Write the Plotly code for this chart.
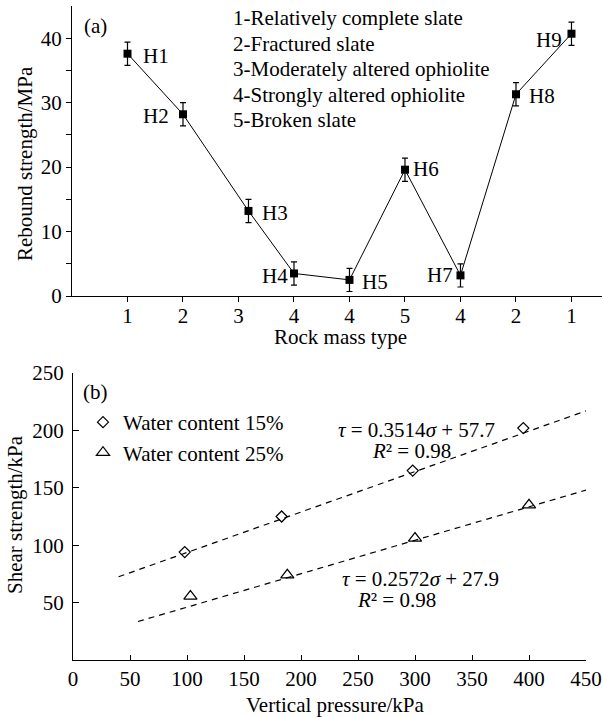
import plotly.graph_objects as go

# ---------------- Panel (a) data ----------------
a_pos = [1, 2, 3.18, 4, 5, 6, 7, 8, 9]
a_tick_vals = [1, 2, 3, 4, 5, 6, 7, 8, 9]
a_tick_text = ["1", "2", "3", "4", "4", "5", "4", "2", "1"]
a_strength = [37.6, 28.2, 13.2, 3.5, 2.5, 19.6, 3.2, 31.3, 40.7]
a_err = [1.8, 1.8, 1.8, 1.8, 1.8, 1.8, 1.8, 1.8, 1.8]
a_labels = ["H1", "H2", "H3", "H4", "H5", "H6", "H7", "H8", "H9"]
a_legend = ["1-Relatively complete slate", "2-Fractured slate",
            "3-Moderately altered ophiolite", "4-Strongly altered ophiolite",
            "5-Broken slate"]

# ---------------- Panel (b) data ----------------
b15_x = [98, 183, 298, 395]
b15_y = [94, 125, 165, 202]
b25_x = [103, 188, 300, 400]
b25_y = [55.5, 74, 106, 135]
fit15_x = [40, 450]
fit15_y = [72.5, 217]
fit25_x = [57, 450]
fit25_y = [33.5, 148]
b_ticks_x = [0, 50, 100, 150, 200, 250, 300, 350, 400, 450]
b_ticks_y = [50, 100, 150, 200, 250]

W, H = 603, 717
FONT = "Liberation Serif, Times New Roman, serif"
FS = 21


def px(xp):
    return xp / W


def py(yp):
    return 1 - yp / H


def tfont():
    return dict(family=FONT, size=FS, color="black")


fig = go.Figure()

fig.add_trace(go.Scatter(
    x=a_pos, y=a_strength, mode="lines+markers",
    line=dict(color="black", width=1),
    marker=dict(symbol="square", size=8, color="black"),
    error_y=dict(type="data", array=a_err, visible=True, color="black",
                 thickness=1.2, width=3),
    xaxis="x", yaxis="y", showlegend=False, cliponaxis=False))

fig.add_trace(go.Scatter(
    x=fit15_x, y=fit15_y, mode="lines",
    line=dict(color="black", width=1.2, dash="6px,5px"),
    xaxis="x2", yaxis="y2", showlegend=False))
fig.add_trace(go.Scatter(
    x=fit25_x, y=fit25_y, mode="lines",
    line=dict(color="black", width=1.2, dash="6px,5px"),
    xaxis="x2", yaxis="y2", showlegend=False))
fig.add_trace(go.Scatter(
    x=b15_x, y=b15_y, mode="markers", name="Water content 15%",
    marker=dict(symbol="diamond-open", size=8.5, color="black",
                line=dict(width=1.2, color="black")),
    xaxis="x2", yaxis="y2", legendgroup="g1"))
fig.add_trace(go.Scatter(
    x=b25_x, y=b25_y, mode="markers", name="Water content 25%",
    marker=dict(symbol="triangle-up-open", size=11.5, color="black",
                line=dict(width=1.2, color="black")),
    xaxis="x2", yaxis="y2", legendgroup="g2"))

annotations = []


def add_text(text, xx, yy, xanchor="center", angle=0):
    annotations.append(dict(x=px(xx), y=py(yy), xref="paper", yref="paper",
                            text=text, showarrow=False, xanchor=xanchor,
                            yanchor="middle", textangle=angle,
                            font=tfont()))


# H labels next to the points
shifts = [(28, -2), (-27, -2), (27, -2), (-19, -3), (26, -2),
          (21, 1), (-20, 0), (26, -2), (-22, -6)]
for xv, yv, lab, (dx, dy) in zip(a_pos, a_strength, a_labels, shifts):
    annotations.append(dict(x=xv, y=yv, xref="x", yref="y", text=lab,
                            showarrow=False, xshift=dx, yshift=dy,
                            xanchor="center", yanchor="middle",
                            font=tfont()))
# panel (a) rock type key
leg_y = [18, 43.5, 69, 94.5, 120]
for t, yy in zip(a_legend, leg_y):
    add_text(t, 231, yy, xanchor="left")
# panel labels
add_text("(a)", 95, 26)
add_text("(b)", 95, 392)
# axis titles
add_text("Rock mass type", 340, 337)
add_text("Rebound strength/MPa", 25, 164, angle=-90)
add_text("Vertical pressure/kPa", 335, 705)
add_text("Shear strength/kPa", 15, 515, angle=-90)
# fitted equations
add_text("<i>τ</i> = 0.3514<i>σ</i> + 57.7", 416, 430)
add_text("<i>R</i>² = 0.98", 411, 451)
add_text("<i>τ</i> = 0.2572<i>σ</i> + 27.9", 420, 579)
add_text("<i>R</i>² = 0.98", 396, 600)

axis_common = dict(showline=True, linecolor="black", linewidth=1.2,
                   showgrid=False, zeroline=False, mirror=False,
                   tickcolor="black", tickwidth=1.2, tickfont=tfont())

fig.update_layout(
    width=W, height=H,
    margin=dict(l=0, r=0, t=0, b=0, autoexpand=False),
    paper_bgcolor="white", plot_bgcolor="white",
    xaxis=dict(domain=[px(72), px(602)], range=[0, 9.55], anchor="y",
               tickmode="array", tickvals=a_tick_vals, ticktext=a_tick_text,
               ticks="outside", ticklen=5, ticklabelstandoff=-4,
               **axis_common),
    yaxis=dict(domain=[py(296), py(6)], range=[0, 45], anchor="x",
               tickmode="array", tickvals=[0, 10, 20, 30, 40],
               ticks="outside", ticklen=5,
               minor=dict(tickvals=[5, 15, 25, 35], ticks="outside",
                          ticklen=5, tickcolor="black", tickwidth=1.2),
               **axis_common),
    xaxis2=dict(domain=[px(73), px(586)], range=[0, 450], anchor="y2",
                tickmode="array", tickvals=b_ticks_x,
                ticks="inside", ticklen=5, **axis_common),
    yaxis2=dict(domain=[py(660), py(373)], range=[0, 250], anchor="x2",
                tickmode="array", tickvals=b_ticks_y,
                ticks="inside", ticklen=6, ticklabelstandoff=4,
                **axis_common),
    showlegend=True,
    legend=dict(x=px(83), y=py(402), xanchor="left", yanchor="top",
                bgcolor="rgba(0,0,0,0)", tracegroupgap=0,
                font=tfont()),
    annotations=annotations,
)

fig.write_html("out.html", config={"displayModeBar": False},
               post_script="document.body.style.margin='0';")
